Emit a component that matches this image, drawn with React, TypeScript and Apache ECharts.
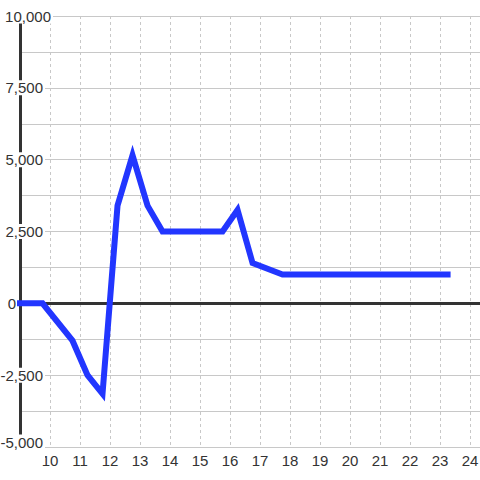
import React, { useEffect, useRef } from "react";
import * as echarts from "echarts";

const xValues = [9, 9.75, 10.75, 11.25, 11.75, 12.25, 12.75, 13.25, 13.75, 15.75, 16.25, 16.75, 17.75, 23.25];
const yValues = [0, 0, -1300, -2500, -3150, 3400, 5150, 3400, 2500, 2500, 3250, 1400, 1000, 1000];

const xMin = 9;
const xMax = 24.33;
const yMin = -5000;
const yMax = 10000;
const yStep = 2500;

const FONT = "'Liberation Sans', Arial, sans-serif";

export default function App() {
  const ref = useRef<HTMLDivElement>(null);
  useEffect(() => {
    if (!ref.current) return;
    const chart = echarts.init(ref.current, undefined, { renderer: "svg" });
    const data = xValues.map((x, i) => [x, yValues[i]]);
    chart.setOption({
      animation: false,
      backgroundColor: "#fff",
      grid: { left: 20, right: 0, top: 16, bottom: 33, containLabel: false, outerBoundsMode: "none" },
      xAxis: {
        type: "value",
        min: xMin,
        max: xMax,
        interval: 1,
        position: "bottom",
        axisLine: { show: false, onZero: false },
        axisTick: { show: false },
        axisLabel: {
          margin: 6,
          fontSize: 15,
          color: "#333",
          fontFamily: FONT,
          showMinLabel: false,
          formatter: (v: number) => (Math.abs(v - Math.round(v)) < 1e-6 ? String(Math.round(v)) : ""),
        },
        splitLine: { show: true, lineStyle: { color: "#c8c8c8", type: [3, 3], width: 1 } },
      },
      yAxis: [
        {
          type: "value",
          min: yMin,
          max: yMax,
          interval: yStep,
          position: "right",
          axisLine: { show: false },
          axisTick: { show: false },
          axisLabel: { show: false },
          splitLine: { show: true, lineStyle: { color: "#c8c8c8", width: 1 } },
          minorTick: { show: false, splitNumber: 2 },
          minorSplitLine: { show: true, lineStyle: { color: "#c8c8c8", width: 1 } },
        },
        {
          type: "value",
          min: yMin,
          max: yMax,
          interval: yStep,
          position: "left",
          z: 1,
          axisLine: { show: true, onZero: false, lineStyle: { color: "#333", width: 3 } },
          axisTick: { show: false },
          splitLine: { show: false },
          axisLabel: {
            margin: -33,
            fontSize: 15,
            fontFamily: FONT,
            color: "#333",
            formatter: (v: number) => {
              const s = v.toLocaleString("en-US");
              if (v === yMax) return `{n|${s}}`;
              if (v === yMin) return `{b|${s}}{s| }`;
              if (v === 0) return `{n|${s}}{z| }`;
              return `{n|${s}}{s| }`;
            },
            rich: {
              n: { backgroundColor: "#fff", padding: [0, 2, 0, 0], fontSize: 15, fontFamily: FONT, color: "#333" },
              b: { backgroundColor: "#fff", padding: [0, 2, 10, 0], fontSize: 15, fontFamily: FONT, color: "#333" },
              s: { width: 8, fontSize: 15 },
              z: { width: 35, fontSize: 15 },
            },
          },
        },
      ],
      series: [
        {
          type: "line",
          yAxisIndex: 0,
          data,
          symbol: "none",
          clip: false,
          lineStyle: { color: "#2236ff", width: 6, cap: "square", join: "miter" },
          markLine: {
            silent: true,
            symbol: "none",
            z: 1,
            label: { show: false },
            lineStyle: { color: "#333", width: 3, type: "solid" },
            data: [{ yAxis: 0 }],
          },
        },
      ],
    });
    return () => chart.dispose();
  }, []);
  return <div ref={ref} style={{ position: "fixed", left: 0, top: 0, width: 480, height: 480 }} />;
}
